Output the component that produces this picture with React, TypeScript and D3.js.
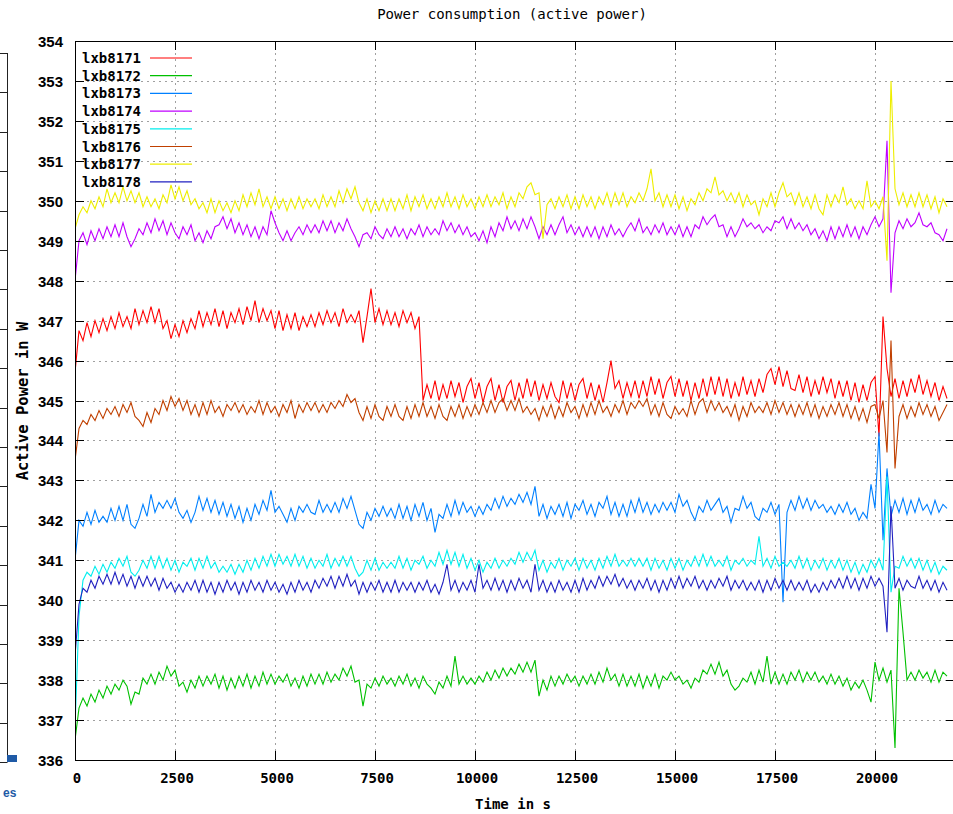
import React from 'react';
import * as d3 from 'd3';

const seriesNames = ['lxb8171', 'lxb8172', 'lxb8173', 'lxb8174', 'lxb8175', 'lxb8176', 'lxb8177', 'lxb8178'];
const seriesColors = ['#ff0000', '#00c000', '#0080ff', '#c000ff', '#00eeee', '#c04000', '#eeee00', '#2020c0'];
const xTicks = [0, 2500, 5000, 7500, 10000, 12500, 15000, 17500, 20000];
const yTicks = [336, 337, 338, 339, 340, 341, 342, 343, 344, 345, 346, 347, 348, 349, 350, 351, 352, 353, 354];
const SAMPLE_STEP = 100; // seconds between samples

const lxb8171 = [
  345.7, 346.75, 346.5, 346.95, 346.6, 347.0, 346.7, 347.05, 346.75, 347.1,
  346.8, 347.2, 346.85, 347.1, 346.8, 347.3, 346.9, 347.25, 346.95, 347.35,
  346.95, 347.3, 346.8, 347.0, 346.55, 346.9, 346.6, 347.0, 346.7, 347.05,
  346.8, 347.25, 346.85, 347.2, 346.9, 347.3, 346.85, 347.25, 346.8, 347.2,
  346.95, 347.3, 346.9, 347.35, 347.0, 347.5, 346.95, 347.3, 347.0, 347.25,
  346.8, 347.25, 346.75, 347.15, 346.8, 347.2, 346.75, 347.1, 346.85, 347.15,
  346.85, 347.2, 346.9, 347.25, 346.95, 347.2, 346.85, 347.3, 346.95, 347.15,
  346.95, 347.25, 346.45, 347.1, 347.8, 346.95, 347.3, 346.9, 347.25, 346.9,
  347.2, 346.85, 347.25, 346.95, 347.2, 346.8, 347.1, 345.0, 345.4, 345.05,
  345.5, 345.0, 345.4, 345.05, 345.5, 345.1, 345.45, 344.95, 345.35, 345.55,
  345.05, 345.45, 344.95, 345.35, 345.55, 345.0, 345.4, 344.95, 345.35, 345.5,
  345.0, 345.45, 345.05, 345.55, 345.1, 345.5, 345.0, 345.4, 345.05, 345.45,
  345.1, 344.95, 345.5, 345.05, 345.45, 345.0, 345.4, 345.55, 345.05, 345.45,
  345.0, 345.4, 344.95, 345.45, 346.0, 345.3, 345.5, 345.05, 345.45, 345.1,
  345.5, 345.05, 345.5, 345.1, 345.6, 345.15, 345.55, 345.05, 345.45, 345.6,
  345.1, 345.55, 345.1, 345.5, 345.0, 345.45, 345.05, 345.55, 345.1, 345.6,
  345.15, 345.6, 345.1, 345.55, 345.05, 345.45, 345.1, 345.6, 345.15, 345.5,
  345.1, 345.55, 345.2, 345.65, 345.8, 345.4, 345.85, 345.35, 345.75, 345.3,
  345.25, 345.65, 345.2, 345.6, 345.1, 345.5, 345.15, 345.6, 345.2, 345.55,
  345.05, 345.5, 345.1, 345.5, 345.0, 345.45, 344.95, 345.4, 345.0, 345.45,
  345.6, 344.1, 347.1, 345.8, 345.1, 345.55, 345.05, 345.5, 345.1, 345.55,
  345.2, 345.65, 345.15, 345.5, 345.1, 345.45, 345.0, 345.35, 345.05,
];

const lxb8172 = [
  336.5, 337.3, 337.55, 337.35, 337.65, 337.45, 337.75, 337.55, 337.85, 337.65,
  337.9, 337.75, 338.0, 337.85, 337.4, 337.7, 337.65, 338.05, 337.9, 338.15,
  337.9, 338.2, 338.0, 338.35, 338.1, 338.25, 337.85, 337.95, 337.7, 338.0,
  337.8, 338.1, 337.85, 338.1, 337.9, 338.15, 337.8, 338.1, 337.75, 338.05,
  337.8, 338.1, 337.85, 338.15, 337.8, 338.1, 337.85, 338.2, 337.9, 338.15,
  337.9, 338.1, 337.95, 338.15, 337.85, 338.05, 337.8, 338.1, 337.85, 338.15,
  337.9, 338.15, 337.9, 338.2, 337.95, 338.15, 338.0, 338.3, 338.1, 338.35,
  337.95, 338.0, 337.35, 337.9, 337.8, 338.05, 337.85, 338.1, 337.9, 338.05,
  337.85, 338.1, 337.9, 338.15, 337.85, 338.05, 337.8, 338.1, 337.9, 337.8,
  337.65, 337.95, 337.8, 338.1, 337.85, 338.6, 337.9, 338.1, 337.9, 338.05,
  337.9, 338.1, 337.95, 338.2, 338.0, 338.25, 338.05, 338.3, 338.1, 338.3,
  338.15, 338.4, 338.2, 338.45, 338.2, 338.5, 337.6, 338.0, 337.75, 338.1,
  337.85, 338.1, 337.9, 338.15, 337.95, 338.1, 337.85, 338.1, 337.9, 338.15,
  337.9, 338.2, 337.95, 338.3, 338.0, 338.15, 337.85, 338.15, 337.85, 338.1,
  337.85, 338.15, 337.8, 338.1, 337.85, 338.15, 337.8, 338.1, 338.0, 338.2,
  338.0, 338.1, 337.9, 338.0, 337.8, 338.05, 337.95, 338.25, 338.15, 338.4,
  338.15, 338.45, 338.1, 338.25, 337.9, 337.75, 337.85, 338.05, 337.95, 338.2,
  337.9, 338.25, 337.95, 338.6, 337.9, 338.2, 337.9, 338.15, 337.9, 338.2,
  338.0, 338.25, 337.95, 338.2, 338.0, 338.2, 337.95, 338.1, 337.9, 338.15,
  337.9, 338.1, 337.85, 338.05, 337.75, 337.95, 337.8, 338.0, 337.75, 337.45,
  338.45, 338.0, 338.3, 337.95, 338.25, 336.3, 340.3, 339.2, 338.0, 338.2,
  338.0, 338.25, 338.05, 338.2, 337.95, 338.25, 337.95, 338.2, 338.1,
];

const lxb8173 = [
  341.0, 342.0, 341.85, 342.2, 341.9, 342.25, 341.95, 342.1, 341.95, 342.3,
  342.0, 342.35, 342.0, 342.4, 341.9, 341.8, 342.05, 342.4, 342.1, 342.65,
  342.2, 342.45, 342.3, 342.5, 342.3, 342.55, 342.2, 342.05, 342.25, 341.95,
  342.2, 342.6, 342.25, 342.55, 342.2, 342.5, 342.15, 342.45, 342.1, 342.4,
  342.05, 342.35, 341.95, 342.3, 342.0, 342.4, 342.15, 342.5, 342.25, 342.75,
  342.2, 342.35, 342.15, 341.95, 342.3, 342.0, 342.35, 342.2, 342.4, 342.2,
  342.15, 342.5, 342.2, 342.4, 342.2, 342.45, 342.2, 342.55, 342.3, 342.6,
  342.25, 341.9, 341.8, 342.2, 342.0, 342.3, 342.1, 342.35, 342.1, 342.3,
  342.05, 342.4, 342.05, 342.35, 342.0, 342.4, 342.1, 342.45, 342.0, 342.3,
  341.7, 342.15, 342.05, 342.4, 342.1, 342.5, 342.15, 342.45, 342.2, 342.35,
  342.1, 342.35, 342.15, 342.4, 342.25, 342.55, 342.3, 342.6, 342.35, 342.55,
  342.4, 342.65, 342.45, 342.7, 342.4, 342.85, 342.1, 342.4, 342.05, 342.35,
  342.15, 342.4, 342.1, 342.45, 342.05, 342.4, 342.25, 342.5, 342.15, 342.4,
  342.1, 342.45, 342.3, 342.6, 342.15, 342.45, 342.1, 342.4, 342.1, 342.5,
  342.2, 342.55, 342.2, 342.45, 342.15, 342.4, 342.2, 342.45, 342.25, 342.45,
  342.2, 342.65, 342.35, 342.5, 342.2, 342.0, 342.35, 342.2, 342.5, 342.25,
  342.4, 342.55, 342.2, 342.35, 341.95, 342.3, 342.25, 342.6, 342.3, 342.45,
  342.1, 342.0, 342.3, 342.2, 342.45, 342.15, 342.4, 339.95, 342.2, 342.5,
  342.25, 342.6, 342.3, 342.55, 342.25, 342.5, 342.3, 342.4, 342.2, 342.35,
  342.15, 342.4, 342.2, 342.45, 342.15, 342.3, 342.0, 342.2, 342.05, 342.9,
  342.3, 344.2, 341.5, 343.3, 342.1, 342.5, 342.2, 342.55, 342.15, 342.5,
  342.2, 342.55, 342.25, 342.4, 342.15, 342.5, 342.2, 342.4, 342.3,
];

const lxb8174 = [
  348.0, 349.0, 349.2, 348.9, 349.25, 349.0, 349.3, 349.05, 349.35, 349.1,
  349.4, 349.1, 349.45, 349.1, 348.85, 349.05, 349.3, 349.15, 349.45, 349.2,
  349.55, 349.25, 349.5, 349.15, 349.45, 349.2, 349.05, 349.35, 349.15, 349.4,
  349.0, 349.2, 348.95, 349.25, 349.05, 349.35, 349.4, 349.6, 349.3, 349.55,
  349.2, 349.45, 349.15, 349.4, 349.1, 349.35, 349.05, 349.35, 349.15, 349.75,
  349.45, 349.2, 349.0, 349.25, 349.0, 349.2, 349.35, 349.15, 349.4, 349.2,
  349.4, 349.2, 349.5, 349.25, 349.5, 349.2, 349.45, 349.25, 349.55, 349.3,
  349.1, 348.85, 349.15, 349.2, 349.05, 349.35, 349.15, 349.05, 349.3, 349.1,
  349.35, 349.1, 349.3, 349.05, 349.3, 349.15, 349.4, 349.1, 349.35, 349.15,
  349.3, 349.15, 349.5, 349.25, 349.45, 349.2, 349.4, 349.15, 349.35, 349.1,
  349.2, 349.0, 349.25, 348.95, 349.35, 349.1, 349.45, 349.25, 349.6, 349.3,
  349.5, 349.25, 349.55, 349.3, 349.6, 349.35, 349.05, 349.35, 349.15, 349.4,
  349.15, 349.4, 349.6, 349.2, 349.4, 349.15, 349.35, 349.1, 349.35, 349.1,
  349.35, 349.05, 349.35, 349.1, 349.4, 349.15, 349.3, 349.1, 349.3, 349.45,
  349.25, 349.55, 349.2, 349.35, 349.15, 349.4, 349.2, 349.45, 349.15, 349.35,
  349.15, 349.4, 349.1, 349.35, 349.1, 349.4, 349.3, 349.6, 349.4, 349.55,
  349.65, 349.35, 349.4, 349.1, 349.35, 349.1, 349.3, 349.55, 349.35, 349.45,
  349.3, 349.4, 349.2, 349.35, 349.25, 349.5, 349.45, 349.6, 349.3, 349.55,
  349.3, 349.45, 349.25, 349.4, 349.15, 349.3, 349.05, 349.25, 349.0, 349.35,
  349.05, 349.35, 349.1, 349.4, 349.1, 349.35, 349.05, 349.35, 349.15, 349.4,
  349.6, 349.35, 349.55, 351.5, 347.7, 349.2, 349.5, 349.3, 349.55, 349.35,
  349.45, 349.7, 349.4, 349.35, 349.45, 349.2, 349.15, 349.0, 349.3,
];

const lxb8175 = [
  336.8, 339.6, 340.5, 340.7, 340.6, 340.85, 340.65, 340.9, 340.7, 340.95,
  340.8, 341.05, 340.85, 341.1, 340.7, 340.6, 340.75, 341.0, 340.8, 341.1,
  340.8, 341.1, 340.8, 341.05, 340.75, 341.0, 340.7, 340.95, 340.85, 341.05,
  340.75, 341.05, 340.8, 341.1, 340.8, 340.95, 340.7, 340.85, 340.7, 340.9,
  340.65, 340.9, 340.7, 341.0, 340.75, 341.05, 340.8, 341.1, 340.85, 341.15,
  340.85, 341.15, 340.9, 341.1, 340.85, 341.15, 340.85, 341.1, 340.8, 341.05,
  340.8, 341.0, 340.85, 341.15, 340.8, 341.05, 340.85, 341.1, 340.85, 341.1,
  340.8, 340.6, 340.7, 341.0, 340.75, 341.05, 340.75, 340.95, 340.8, 340.95,
  340.8, 341.1, 340.8, 341.05, 340.75, 341.0, 340.9, 341.1, 340.8, 341.0,
  340.85, 341.2, 340.9, 341.25, 340.9, 341.2, 340.85, 341.15, 340.8, 341.05,
  340.75, 341.0, 340.7, 340.95, 340.8, 341.05, 340.8, 341.0, 340.85, 341.05,
  340.9, 341.2, 340.95, 341.2, 341.0, 341.25, 340.75, 341.0, 340.7, 340.95,
  340.8, 341.05, 340.75, 341.0, 340.85, 341.05, 340.75, 341.05, 340.8, 341.0,
  340.75, 341.05, 340.8, 341.1, 340.85, 341.15, 340.85, 341.0, 340.85, 341.05,
  340.85, 341.05, 340.85, 341.05, 340.75, 341.05, 340.8, 341.0, 340.75, 341.05,
  340.8, 341.05, 340.75, 341.0, 340.85, 341.1, 340.85, 341.15, 340.85, 341.1,
  340.85, 341.0, 340.85, 341.1, 340.75, 341.0, 340.9, 341.05, 340.85, 341.0,
  340.9, 341.6, 340.85, 341.05, 340.8, 341.1, 340.85, 340.95, 340.85, 341.0,
  340.8, 341.1, 340.8, 341.05, 340.75, 341.0, 340.8, 341.05, 340.75, 341.0,
  340.8, 341.05, 340.75, 341.0, 340.7, 340.95, 340.65, 340.9, 340.7, 341.0,
  340.8, 341.05, 340.75, 343.1, 340.2, 340.85, 340.8, 341.1, 340.85, 341.05,
  340.8, 341.05, 340.75, 341.0, 340.7, 340.95, 340.65, 340.85, 340.75,
];

const lxb8176 = [
  343.5, 344.3, 344.5, 344.4, 344.65, 344.5, 344.75, 344.55, 344.8, 344.65,
  344.85, 344.6, 344.9, 344.7, 344.95, 344.6, 344.5, 344.35, 344.7, 344.45,
  344.8, 344.65, 345.0, 344.75, 345.1, 344.85, 345.05, 344.75, 345.0, 344.65,
  344.9, 344.6, 344.95, 344.65, 345.0, 344.7, 344.85, 344.6, 344.9, 344.75,
  344.95, 344.7, 344.9, 344.65, 344.85, 344.7, 345.0, 344.65, 344.95, 344.7,
  344.85, 344.6, 344.9, 344.7, 345.0, 344.55, 344.9, 344.7, 344.95, 344.75,
  344.95, 344.7, 344.9, 344.7, 344.95, 344.8, 345.0, 344.85, 345.15, 344.95,
  345.05, 344.7, 344.5, 344.85, 344.55, 344.9, 344.6, 344.5, 344.85, 344.6,
  344.9, 344.6, 344.5, 344.85, 344.55, 344.9, 344.6, 344.95, 344.6, 344.85,
  344.55, 344.9, 344.6, 344.5, 344.85, 344.6, 344.9, 344.55, 344.85, 344.6,
  344.9, 344.65, 344.95, 344.7, 345.0, 344.7, 344.95, 345.05, 344.75, 345.0,
  344.75, 345.05, 344.7, 344.85, 344.65, 344.8, 344.5, 344.85, 344.6, 344.9,
  344.55, 344.85, 344.6, 344.95, 344.7, 344.85, 344.55, 344.9, 344.6, 344.95,
  344.65, 345.0, 344.7, 344.85, 344.6, 344.9, 344.7, 345.0, 344.65, 344.95,
  344.8, 345.0, 344.85, 345.05, 344.65, 344.9, 344.6, 344.95, 344.65, 344.55,
  344.85, 344.65, 344.8, 344.6, 345.0, 344.65, 344.95, 345.05, 344.7, 345.0,
  344.75, 344.95, 344.7, 344.85, 344.6, 344.9, 344.5, 344.85, 344.6, 344.95,
  344.7, 344.85, 344.7, 344.95, 344.65, 345.0, 344.7, 344.95, 344.65, 344.9,
  344.6, 344.9, 344.65, 344.95, 344.6, 344.9, 344.55, 344.85, 344.6, 344.9,
  344.65, 344.95, 344.6, 344.9, 344.55, 344.85, 344.5, 344.8, 344.45, 344.85,
  344.9, 344.55, 345.0, 343.7, 346.5, 343.3, 344.6, 344.9, 344.55, 344.85,
  344.6, 344.95, 344.65, 344.9, 344.6, 344.85, 344.5, 344.7, 344.9,
];

const lxb8177 = [
  349.3, 349.65, 349.85, 349.7, 350.0, 349.8, 350.1, 349.85, 350.3, 349.95,
  350.2, 349.95, 350.35, 350.0, 350.25, 349.95, 350.2, 349.85, 350.1, 349.85,
  350.05, 349.8, 350.15, 349.95, 350.4, 350.05, 350.35, 350.0, 350.25, 349.9,
  350.05, 349.8, 349.95, 349.7, 350.05, 349.7, 350.0, 349.75, 349.95, 349.7,
  350.0, 349.75, 350.15, 349.85, 350.2, 349.9, 350.3, 349.85, 350.1, 349.8,
  350.1, 349.8, 350.05, 349.75, 350.05, 349.8, 350.1, 349.8, 350.05, 349.85,
  350.05, 349.8, 350.15, 349.85, 350.1, 349.85, 350.25, 349.95, 350.3, 350.05,
  350.35, 349.95, 349.75, 350.05, 349.7, 350.0, 349.75, 350.05, 349.75, 350.05,
  349.75, 350.05, 349.8, 350.15, 349.75, 350.1, 349.85, 350.15, 349.8, 350.05,
  349.8, 350.1, 349.85, 350.2, 349.85, 350.1, 349.8, 350.15, 349.85, 350.05,
  349.8, 350.1, 349.85, 350.15, 349.85, 350.1, 349.9, 350.2, 349.8, 350.1,
  349.85, 350.2, 350.05, 350.35, 350.45, 350.15, 350.2, 349.05, 349.9, 350.05,
  349.8, 350.1, 349.85, 350.15, 349.8, 350.1, 349.8, 350.15, 349.85, 350.1,
  349.8, 350.1, 349.9, 350.2, 349.85, 350.2, 349.9, 350.2, 349.85, 350.1,
  349.95, 350.2, 350.0, 350.3, 350.8, 350.0, 350.2, 349.85, 350.15, 349.85,
  350.15, 349.8, 350.1, 349.75, 350.05, 349.9, 350.2, 350.0, 350.3, 350.2,
  350.6, 350.15, 350.25, 350.0, 350.2, 349.95, 350.2, 349.85, 350.15, 349.9,
  350.0, 349.65, 350.05, 349.85, 350.2, 349.85, 350.2, 350.45, 350.1, 350.2,
  349.9, 350.2, 349.85, 350.1, 349.8, 350.15, 349.8, 349.65, 350.15, 349.85,
  350.15, 349.95, 350.35, 349.9, 350.05, 349.8, 350.0, 349.8, 350.5, 349.85,
  350.0, 349.8, 350.1, 348.5, 353.0, 350.3, 349.9, 350.2, 349.85, 350.15,
  349.85, 350.2, 349.85, 350.15, 349.8, 350.1, 349.7, 350.05, 349.85,
];

const lxb8178 = [
  338.6, 339.9, 340.3, 340.2, 340.5, 340.3, 340.6, 340.4, 340.65, 340.4,
  340.7, 340.4, 340.65, 340.35, 340.6, 340.3, 340.6, 340.35, 340.6, 340.35,
  340.55, 340.25, 340.55, 340.3, 340.45, 340.2, 340.4, 340.2, 340.45, 340.25,
  340.5, 340.2, 340.5, 340.2, 340.45, 340.15, 340.45, 340.2, 340.5, 340.25,
  340.45, 340.15, 340.45, 340.2, 340.5, 340.25, 340.45, 340.2, 340.5, 340.25,
  340.45, 340.2, 340.4, 340.15, 340.45, 340.2, 340.5, 340.25, 340.45, 340.2,
  340.5, 340.3, 340.55, 340.35, 340.6, 340.3, 340.6, 340.35, 340.65, 340.35,
  340.5, 340.15, 340.45, 340.2, 340.45, 340.25, 340.5, 340.2, 340.45, 340.2,
  340.5, 340.2, 340.45, 340.25, 340.45, 340.2, 340.45, 340.25, 340.5, 340.2,
  340.4, 340.15, 340.45, 340.9, 340.25, 340.5, 340.2, 340.45, 340.25, 340.5,
  340.2, 340.9, 340.3, 340.5, 340.25, 340.55, 340.25, 340.5, 340.2, 340.5,
  340.25, 340.55, 340.3, 340.5, 340.2, 340.9, 340.25, 340.5, 340.2, 340.45,
  340.2, 340.5, 340.25, 340.45, 340.2, 340.5, 340.2, 340.55, 340.25, 340.5,
  340.3, 340.6, 340.35, 340.6, 340.4, 340.65, 340.35, 340.55, 340.3, 340.5,
  340.25, 340.5, 340.3, 340.55, 340.25, 340.5, 340.2, 340.5, 340.25, 340.55,
  340.3, 340.6, 340.3, 340.55, 340.35, 340.6, 340.3, 340.5, 340.25, 340.5,
  340.3, 340.55, 340.35, 340.6, 340.25, 340.5, 340.3, 340.5, 340.25, 340.45,
  340.25, 340.5, 340.2, 340.5, 340.25, 340.55, 340.3, 340.5, 340.25, 340.5,
  340.25, 340.45, 340.25, 340.5, 340.2, 340.4, 340.2, 340.45, 340.25, 340.5,
  340.3, 340.55, 340.3, 340.6, 340.3, 340.55, 340.25, 340.55, 340.3, 340.6,
  340.35, 340.55, 340.35, 339.2, 342.35, 340.3, 340.55, 340.25, 340.5, 340.35,
  340.3, 340.6, 340.3, 340.5, 340.25, 340.5, 340.2, 340.45, 340.25,
];

const seriesValues = [lxb8171, lxb8172, lxb8173, lxb8174, lxb8175, lxb8176, lxb8177, lxb8178];

const W = 953;
const H = 814;
const PL = 75;
const PR = 955;
const PT = 41;
const PB = 760;

const MONO = "'DejaVu Sans Mono', monospace";
const SANS = "'Liberation Sans', Arial, sans-serif";

export default function App() {
  const x = d3.scaleLinear().domain([0, 22000]).range([PL, PR]);
  const y = d3.scaleLinear().domain([336, 354]).range([PB, PT]);
  const line = d3
    .line<number>()
    .x((_, i) => x(i * SAMPLE_STEP))
    .y((d) => y(d));

  const sideRows = d3.range(18).map((k) => 53 + k * 39.4);

  return (
    <svg
      width={W}
      height={H}
      viewBox={`0 0 ${W} ${H}`}
      style={{ position: 'absolute', left: 0, top: 0, background: '#fff' }}
    >
      <rect x={0} y={0} width={W} height={H} fill="#fff" />
      <defs>
        <clipPath id="plotClip">
          <rect x={PL} y={PT} width={PR - PL} height={PB - PT} />
        </clipPath>
      </defs>

      {/* fragment of a neighbouring window at the left edge */}
      <g stroke="#222" strokeWidth={1}>
        <line x1={7.5} x2={7.5} y1={53} y2={762} />
        {sideRows.map((r, i) => (
          <line key={i} x1={0} x2={7.5} y1={Math.round(r) + 0.5} y2={Math.round(r) + 0.5} />
        ))}
        <line x1={0} x2={7.5} y1={762.5} y2={762.5} />
      </g>
      <rect x={7} y={755} width={10} height={7} fill="#1f5aa6" />
      <text x={3} y={797} fontFamily={SANS} fontWeight="bold" fontSize={12} fill="#1f5aa6">
        es
      </text>

      {/* grid */}
      <g stroke="#a0a0a0" strokeWidth={1} strokeDasharray="2,4">
        {xTicks
          .filter((t) => t > 0)
          .map((t) => (
            <line key={'gx' + t} x1={Math.round(x(t)) + 0.5} x2={Math.round(x(t)) + 0.5} y1={PT} y2={PB} />
          ))}
        {yTicks
          .filter((t) => t > 336 && t < 354)
          .map((t) => (
            <line key={'gy' + t} x1={PL} x2={PR} y1={Math.round(y(t)) + 0.5} y2={Math.round(y(t)) + 0.5} />
          ))}
      </g>

      {/* data */}
      <g clipPath="url(#plotClip)" fill="none" strokeWidth={1.1} strokeLinejoin="miter">
        {seriesValues.map((vals, i) => (
          <path key={seriesNames[i]} d={line(vals) || ''} stroke={seriesColors[i]} />
        ))}
      </g>

      {/* border and ticks */}
      <g stroke="#000" strokeWidth={1} fill="none">
        <rect x={PL + 0.5} y={PT + 0.5} width={PR - PL} height={PB - PT} />
        {xTicks.map((t) => {
          const px = Math.round(x(t)) + 0.5;
          return (
            <g key={'tx' + t}>
              <line x1={px} x2={px} y1={PB} y2={PB - 9} />
              <line x1={px} x2={px} y1={PT} y2={PT + 9} />
            </g>
          );
        })}
        {yTicks.map((t) => {
          const py = Math.round(y(t)) + 0.5;
          return (
            <g key={'ty' + t}>
              <line x1={PL} x2={PL + 9} y1={py} y2={py} />
              <line x1={PR} x2={PR - 9} y1={py} y2={py} />
            </g>
          );
        })}
      </g>

      {/* tick labels */}
      <g fontFamily={SANS} fontWeight="bold" fontSize={15} fill="#000" textAnchor="end">
        {yTicks.map((t) => (
          <text key={'ly' + t} x={63} y={y(t) + 6}>
            {t}
          </text>
        ))}
      </g>
      <g fontFamily={MONO} fontWeight="bold" fontSize={14} fill="#000" textAnchor="middle">
        {xTicks.map((t) => (
          <text key={'lx' + t} x={x(t) + 2} y={783}>
            {t}
          </text>
        ))}
      </g>

      {/* titles */}
      <text x={512} y={19} textAnchor="middle" fontFamily={MONO} fontSize={14} fill="#000">
        Power consumption (active power)
      </text>
      <text x={513} y={809} textAnchor="middle" fontFamily={MONO} fontWeight="bold" fontSize={14} fill="#000">
        Time in s
      </text>
      <text
        transform="translate(28,401) rotate(-90)"
        textAnchor="middle"
        fontFamily={MONO}
        fontWeight="bold"
        fontSize={15.5}
        fill="#000"
      >
        Active Power in W
      </text>

      {/* legend */}
      <g>
        {seriesNames.map((n, i) => {
          const ly = 58 + i * 17.7;
          return (
            <g key={'lg' + n}>
              <text x={82} y={ly + 5} fontFamily={MONO} fontWeight="bold" fontSize={14} fill="#000">
                {n}
              </text>
              <line x1={150} x2={192} y1={ly} y2={ly} stroke={seriesColors[i]} strokeWidth={1.2} />
            </g>
          );
        })}
      </g>
    </svg>
  );
}
